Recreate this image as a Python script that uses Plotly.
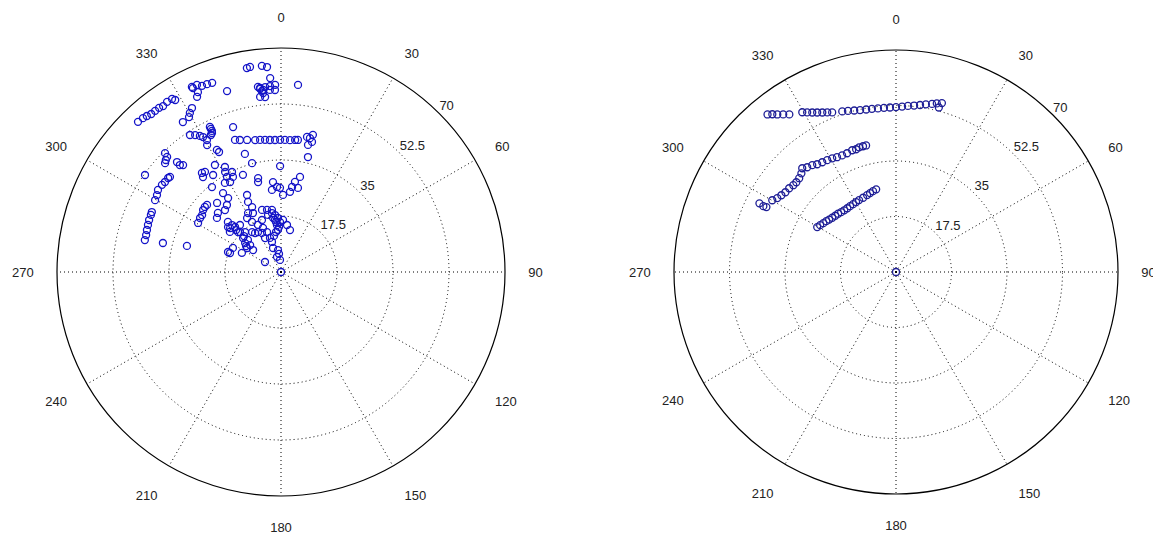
import plotly.graph_objects as go

# ---------------- data (theta in degrees clockwise from north, r in 0..70) -------------
left_theta = [316.4, 318.1, 319.3, 320.6, 322.0, 323.4, 324.6, 326.2, 327.8, 328.4,
              334.3, 335.8, 337.0, 338.5, 340.0, 334.4, 335.2, 334.4, 343.4,
              331.5, 330.2, 329.3, 326.8,
              333.9, 333.9, 333.9, 333.6, 332.9,
              326.4, 327.9, 329.2, 330.0, 330.7, 329.8, 332.3, 332.7, 315.7, 315.3, 314.2,
              350.5, 351.4, 354.7, 356.1, 356.8, 352.9, 353.5, 354.4, 355.1, 356.6, 358.2,
              356.5, 358.1, 353.2, 354.8, 354.3, 5.2, 341.7,
              340.8, 342.7, 345.6, 348.9, 351.0, 353.1, 355.2, 357.4, 359.6, 1.7, 3.9, 6.1, 7.3,
              10.9, 12.2, 13.1, 13.4, 12.0, 343.0, 13.2,
              305.5, 313.2, 316.6, 316.6, 317.5,
              299.7, 301.8, 303.7, 306.2, 307.8, 309.8, 310.6,
              283.2, 285.3, 287.4, 289.5, 291.5, 293.7, 294.9, 283.8, 285.5,
              300.6, 303.7, 305.8, 308.5, 310.5, 312.2,
              321.4, 322.8, 320.6, 328.3, 325.0, 320.9, 317.2, 313.1, 310.2,
              331.9, 330.8, 330.4, 327.8, 323.7, 324.4, 321.1, 317.9, 310.3, 308.1, 290.7,
              345.1, 359.5, 333.9, 333.2, 330.5, 338.6, 354.9, 353.7, 357.3, 359.3,
              7.4, 8.8, 11.3, 11.4, 1.5, 336.2, 334.8, 336.0, 334.6, 330.8, 327.8,
              343.0, 347.3, 351.7, 351.3, 351.6, 353.4, 355.1, 355.9, 354.3, 2.2, 7.3, 12.1,
              314.4, 312.9, 310.8, 318.0, 324.1, 326.3, 337.8, 334.8, 340.7,
              311.8, 308.9, 305.2, 308.2, 296.0, 343.3, 341.6, 345.1, 355.2, 302.0,
              296.6, 290.4, 0.0, 346.3, 6.4, 345.7, 329.9, 333.9, 318.9,
              313.3, 313.8, 313.0, 314.3, 314.2, 314.1, 306.6, 311.1,
              354.0, 356.8, 358.9, 357.5, 352.9, 349.0, 347.2, 339.9, 330.1, 334.0,
              342.1, 352.2, 353.7, 353.5, 354.0]
left_r = [64.8, 64.6, 64.3, 63.9, 63.9, 63.9, 63.6, 64.0, 63.9, 63.1,
          64.2, 64.1, 63.2, 63.1, 62.9, 63.7, 61.9, 60.7, 59.0,
          58.3, 57.3, 56.3, 56.0,
          50.5, 49.8, 49.1, 48.5, 48.1,
          51.4, 50.5, 49.5, 48.7, 47.3, 45.9, 43.1, 42.2, 51.9, 50.6, 50.2,
          64.6, 64.8, 64.7, 64.2, 60.7, 58.3, 57.6, 57.2, 58.0, 58.2, 58.5,
          57.0, 56.9, 55.1, 54.9, 56.2, 58.7, 47.7,
          43.7, 43.2, 42.6, 42.0, 41.8, 41.6, 41.4, 41.3, 41.3, 41.3, 41.3, 41.5, 41.6,
          43.0, 42.8, 44.0, 41.8, 40.6, 38.6, 36.9,
          52.2, 49.7, 47.3, 46.0, 45.3,
          45.3, 45.6, 46.2, 46.1, 45.9, 45.9, 45.7,
          43.7, 43.7, 43.9, 44.1, 44.3, 44.4, 44.5, 38.0, 30.5,
          30.1, 30.4, 30.4, 31.1, 31.3, 31.2,
          39.6, 39.3, 38.4, 39.3, 37.0, 34.2, 29.4, 27.0, 26.2,
          37.2, 35.8, 34.2, 32.9, 30.6, 28.4, 26.9, 26.1, 21.7, 20.3, 17.7,
          35.2, 33.1, 34.8, 33.3, 32.3, 32.6, 28.2, 25.8, 26.6, 26.3,
          26.8, 28.5, 30.3, 26.8, 24.1, 26.3, 24.2, 22.2, 20.4, 21.1, 19.9,
          20.3, 19.9, 19.6, 18.6, 17.1, 16.4, 14.7, 13.2, 15.7, 16.3, 14.8, 13.4,
          20.1, 18.3, 21.0, 16.8, 15.4, 14.6, 14.9, 11.7, 13.2,
          15.9, 14.4, 13.0, 11.1, 13.6, 9.8, 7.9, 4.9, 3.8, 5.9,
          16.8, 17.0, 0.0, 30.2, 25.2, 29.0, 18.1, 16.4, 19.5,
          22.8, 21.2, 19.2, 17.9, 16.1, 14.4, 13.6, 12.8,
          17.9, 16.9, 15.6, 14.1, 12.6, 11.5, 18.3, 17.3, 14.4, 13.6,
          11.2, 6.9, 5.7, 57.9, 56.9]

right_theta = [320.8, 321.9, 323.0, 324.4, 325.9,
               329.6, 330.9, 332.3, 333.7, 335.2, 336.7, 338.2,
               341.5, 343.4, 345.5, 347.5, 349.6, 351.6, 353.7, 355.8, 357.9, 0.0,
               2.1, 4.1, 6.2, 8.2, 10.1, 12.1, 13.6, 15.2, 14.6,
               296.7, 296.4, 296.6, 300.1, 301.9, 303.8, 305.8, 308.1, 310.2, 312.0,
               314.1, 316.2, 317.9, 319.7, 321.9, 323.8, 326.1, 328.4, 330.7, 332.8,
               335.2, 337.6, 340.2, 342.0, 343.5, 345.3, 346.7,
               299.7, 301.7, 303.9, 306.1, 308.1, 310.4, 312.8, 315.2, 317.5, 320.0,
               322.6, 325.1, 327.7, 330.3, 332.8, 336.1, 339.4, 341.8, 344.1, 346.5,
               0.0]
right_r = [64.1, 63.2, 62.2, 61.1, 60.0,
           58.4, 57.6, 56.8, 56.1, 55.4, 54.8, 54.2,
           53.4, 53.0, 52.6, 52.3, 52.1, 52.0, 51.9, 51.9, 51.9, 52.0,
           52.2, 52.5, 52.8, 53.2, 53.7, 54.2, 54.7, 55.2, 53.6,
           48.2, 46.7, 45.7, 45.1, 44.1, 43.5, 43.0, 42.8, 42.4, 42.3,
           42.5, 43.1, 44.1, 43.3, 42.8, 42.1, 41.7, 41.4, 41.1, 40.7,
           40.5, 40.5, 40.8, 40.7, 41.0, 41.0, 41.0,
           28.6, 28.1, 27.6, 27.2, 26.8, 26.4, 26.1, 25.9, 25.6, 25.4,
           25.3, 25.3, 25.3, 25.4, 25.5, 25.6, 25.9, 26.2, 26.5, 26.8,
           0.0]

angle_ticks = [0, 30, 60, 90, 120, 150, 180, 210, 240, 270, 300, 330]
radial_ticks = [17.5, 35, 52.5, 70]
radial_labels = ["17.5", "35", "52.5", "70"]
label_bearing = 45

# ---------------- figure -------------
FONT = dict(family="Liberation Sans, Arial, sans-serif", size=13, color="#222222")

fig = go.Figure()

def add_panel(theta, r, subplot, color):
    fig.add_trace(go.Scatterpolar(
        theta=theta, r=r, mode="markers", subplot=subplot,
        marker=dict(symbol="circle-open", size=7, color=color, line=dict(width=1.3, color=color)),
        showlegend=False, hoverinfo="skip"))
    fig.add_trace(go.Scatterpolar(
        theta=[label_bearing] * len(radial_ticks), r=radial_ticks, mode="text",
        text=radial_labels, textposition="top right", subplot=subplot,
        textfont=FONT, cliponaxis=False, showlegend=False, hoverinfo="skip"))

add_panel(left_theta, left_r, "polar", "#1414c8")
add_panel(right_theta, right_r, "polar2", "#1e1e96")

PAGE_OFFSET = 8  # default page margin shifts the whole figure
W = 1161.0 - PAGE_OFFSET
H = 542.0 - 2 * PAGE_OFFSET   # keep the page free of a vertical scrollbar

def polar_layout(cx, cy, rad):
    cx = cx - PAGE_OFFSET
    cy = cy - PAGE_OFFSET
    return dict(
        domain=dict(x=[(cx - rad) / W, (cx + rad) / W],
                    y=[(H - cy - rad) / H, (H - cy + rad) / H]),
        bgcolor="white",
        angularaxis=dict(
            rotation=90, direction="clockwise",
            tickmode="array", tickvals=angle_ticks, ticktext=[str(a) for a in angle_ticks],
            showline=True, linecolor="black", linewidth=1.2,
            showgrid=True, gridcolor="black", gridwidth=1, griddash="1px,3px",
            ticks="outside", ticklen=20, tickcolor="rgba(0,0,0,0)",
            tickfont=FONT),
        radialaxis=dict(
            range=[0, 70], tickmode="array", tickvals=radial_ticks,
            showticklabels=False, ticks="", showline=False,
            showgrid=True, gridcolor="black", gridwidth=1, griddash="1px,3px"),
    )

fig.update_layout(
    width=int(W), height=int(H),
    margin=dict(l=0, r=0, t=0, b=0),
    paper_bgcolor="white",
    polar=polar_layout(281, 272, 224),
    polar2=polar_layout(896, 272, 222),
    font=FONT,
)

fig.write_html("out.html")
